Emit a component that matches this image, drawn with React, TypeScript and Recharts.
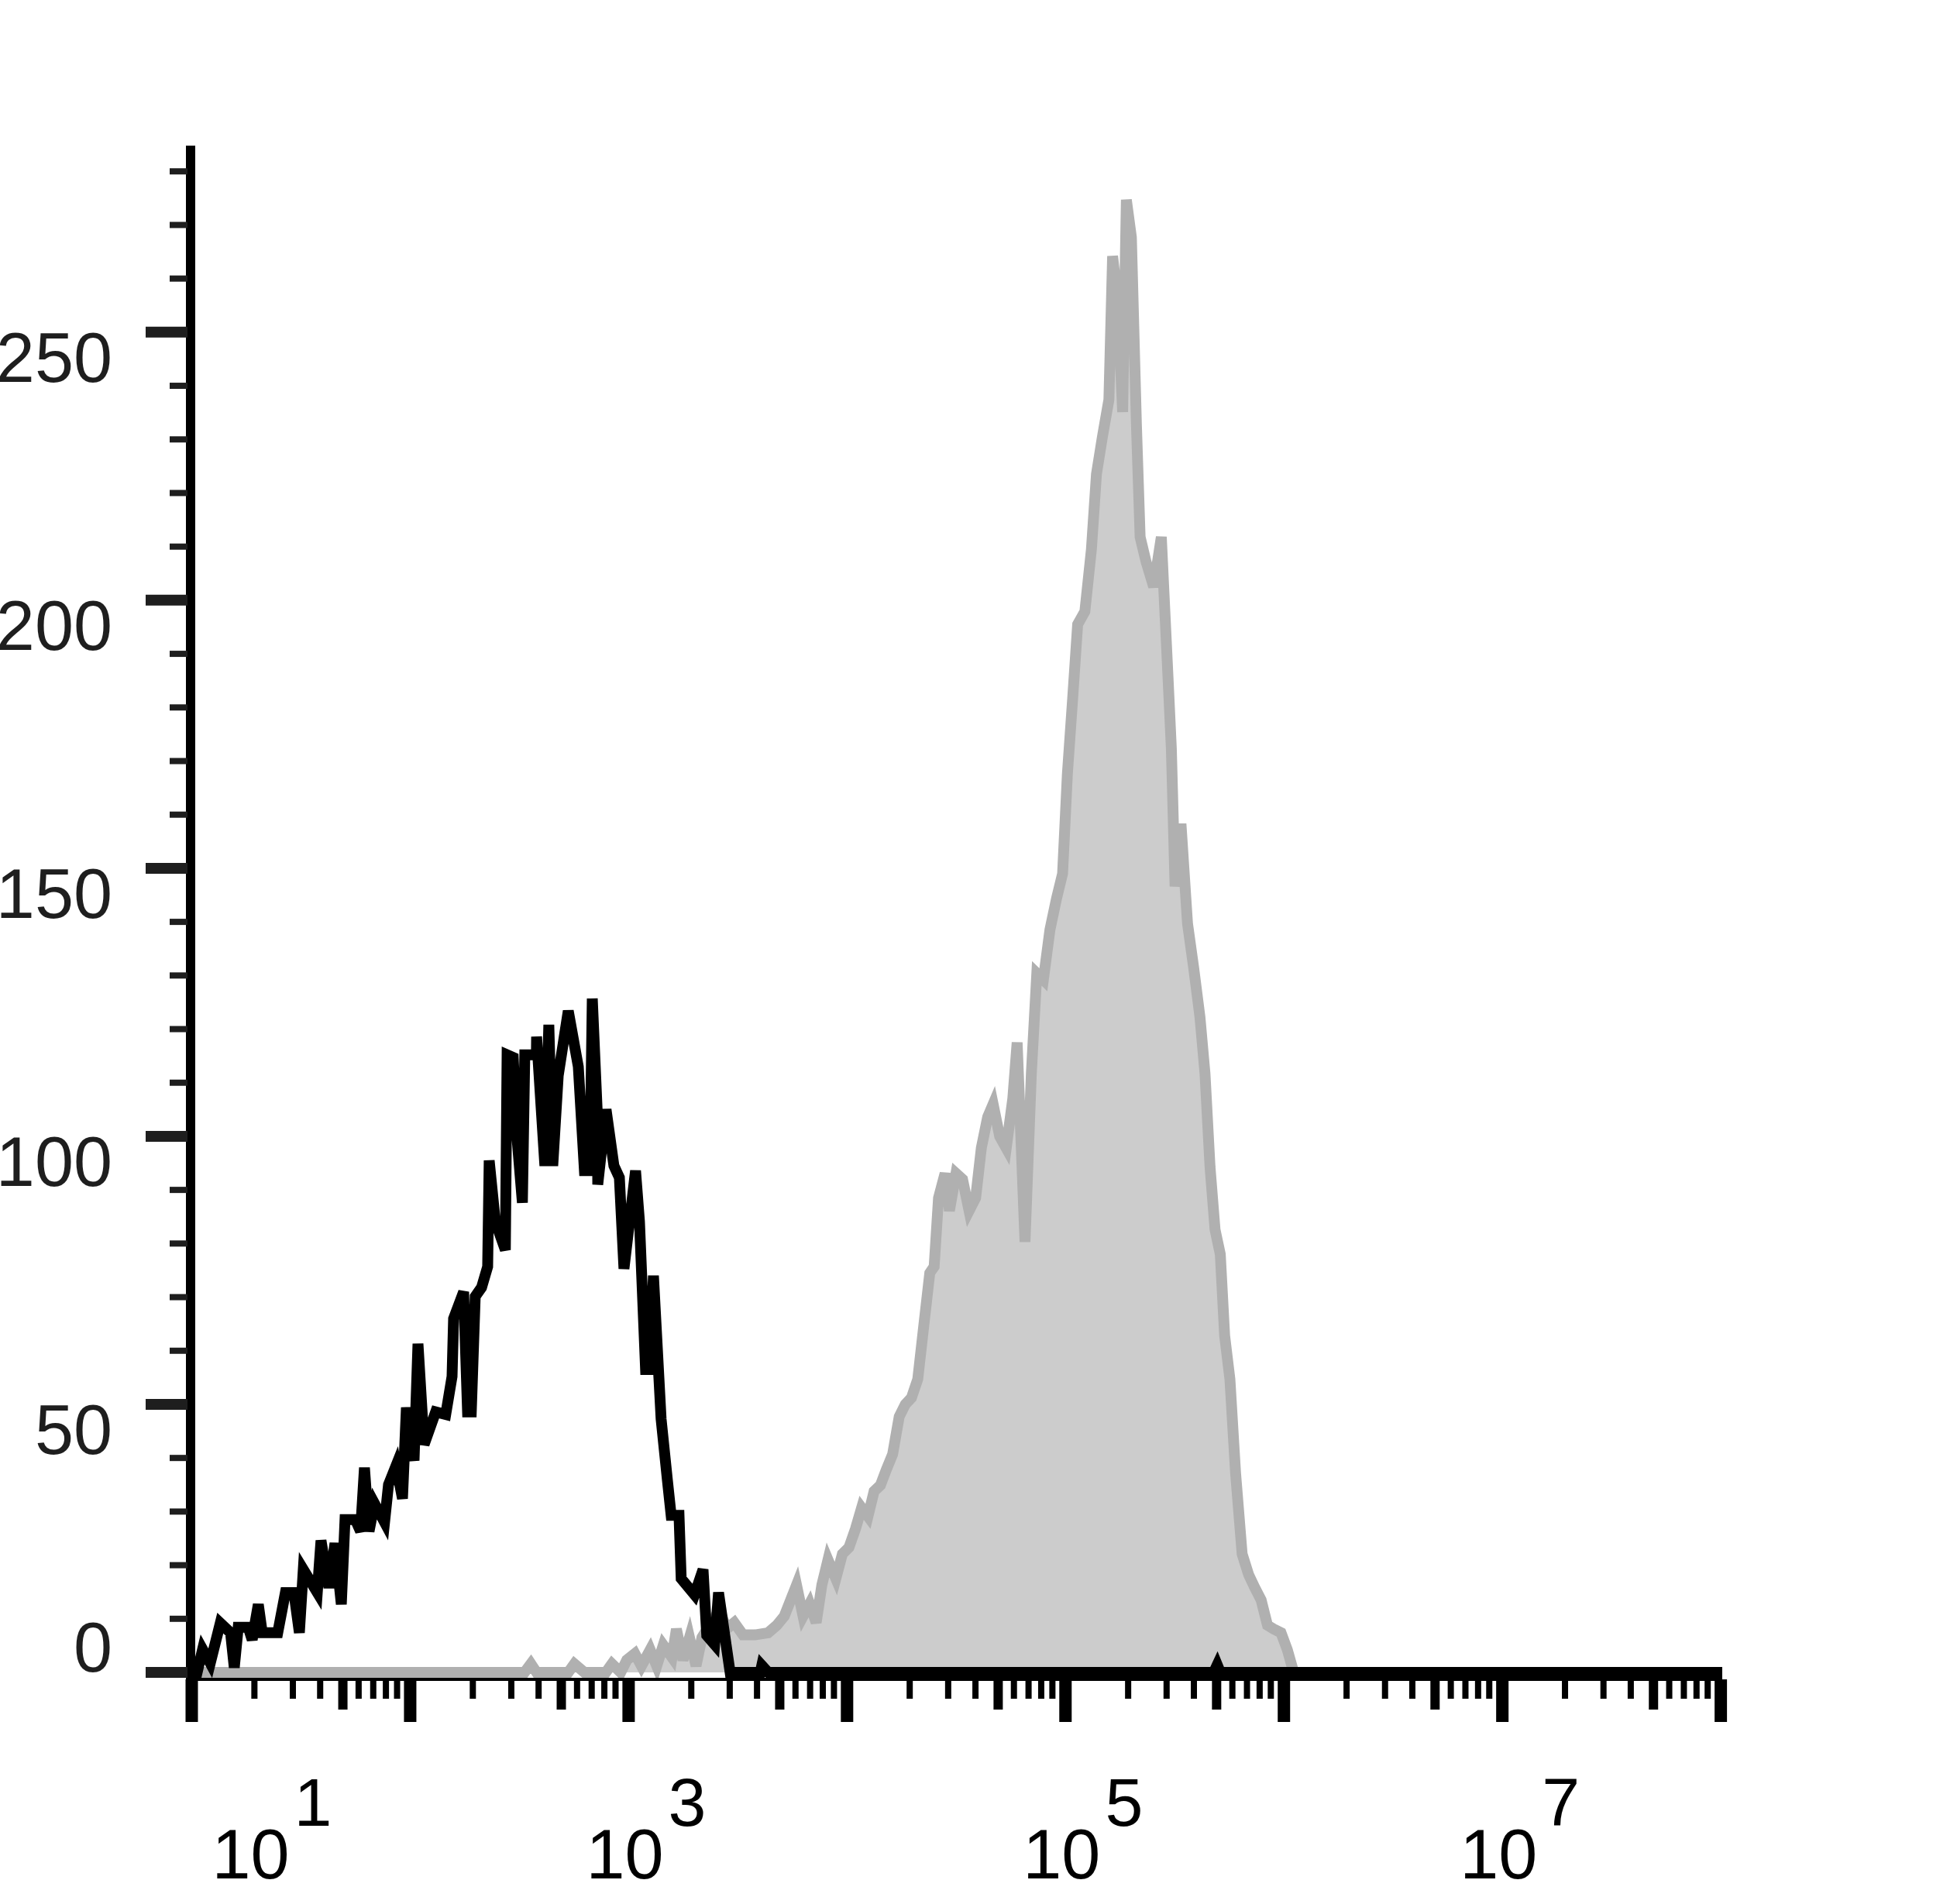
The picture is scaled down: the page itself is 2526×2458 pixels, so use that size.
import React from 'react';
import { ComposedChart, Line, Area, XAxis, YAxis } from 'recharts';

// Isotype control (black outline) – bin position as log10(channel) and count
const isoExp = [1.018, 1.046, 1.071, 1.106, 1.152, 1.199, 1.216, 1.234, 1.28, 1.298, 1.326, 1.344, 1.415, 1.45, 1.489, 1.514, 1.532, 1.596, 1.613, 1.649, 1.677, 1.706, 1.723, 1.77, 1.794, 1.812, 1.833, 1.858, 1.904, 1.922, 1.957, 1.986, 2.004, 2.039, 2.057, 2.085, 2.138, 2.184, 2.213, 2.22, 2.266, 2.284, 2.301, 2.319, 2.348, 2.376, 2.383, 2.411, 2.457, 2.465, 2.493, 2.511, 2.535, 2.546, 2.599, 2.6, 2.638, 2.656, 2.674, 2.699, 2.745, 2.791, 2.819, 2.844, 2.855, 2.879, 2.88, 2.918, 2.954, 2.979, 3.0, 3.053, 3.071, 3.099, 3.117, 3.135, 3.17, 3.199, 3.216, 3.252, 3.262, 3.323, 3.362, 3.379, 3.415, 3.433, 3.486, 3.624, 3.631, 3.66, 5.7, 5.716, 5.73, 8.028];
const isoCount = [1.7, 0, 4.3, 1.7, 9.2, 7.4, 0.9, 8.4, 8.4, 6.1, 12.7, 7.4, 7.4, 14.9, 14.9, 7.4, 19.2, 14.9, 24.6, 15.8, 24.1, 12.7, 28.5, 28.5, 26.3, 38.2, 26.3, 31.5, 28, 35, 38.6, 32.4, 49.4, 39.5, 61.3, 42.5, 48.6, 48.1, 55.2, 66, 71, 48.6, 48.6, 70.1, 71.8, 75.7, 95.5, 84.1, 78.8, 115.2, 114.7, 99.4, 87.6, 115.2, 115.2, 118.6, 94.5, 120.8, 94.5, 111.3, 123.4, 113, 93.6, 93.6, 125.7, 103.3, 91, 105, 94.5, 92.3, 75.3, 93.6, 84.1, 56.5, 56.5, 74, 47.3, 35.8, 29.3, 29.3, 17.5, 14.5, 19.2, 6.9, 5.2, 14.9, 0, 0, 1.3, 0, 0, 1.4, 0, 0];

// Stained sample (grey filled)
const stainExp = [1.016, 2.545, 2.574, 2.6, 2.745, 2.773, 2.819, 2.917, 2.945, 2.985, 3.013, 3.05, 3.08, 3.12, 3.15, 3.18, 3.22, 3.24, 3.27, 3.3, 3.33, 3.357, 3.4, 3.437, 3.47, 3.505, 3.545, 3.6, 3.66, 3.7, 3.734, 3.763, 3.79, 3.82, 3.85, 3.88, 3.906, 3.934, 3.97, 4.0, 4.03, 4.06, 4.088, 4.117, 4.145, 4.174, 4.2, 4.23, 4.26, 4.288, 4.316, 4.345, 4.374, 4.4, 4.42, 4.44, 4.47, 4.49, 4.52, 4.55, 4.58, 4.61, 4.636, 4.665, 4.69, 4.72, 4.75, 4.78, 4.8, 4.836, 4.865, 4.89, 4.92, 4.95, 4.98, 5.008, 5.03, 5.054, 5.077, 5.11, 5.14, 5.163, 5.19, 5.22, 5.237, 5.26, 5.283, 5.3, 5.323, 5.346, 5.363, 5.39, 5.425, 5.46, 5.49, 5.506, 5.523, 5.55, 5.58, 5.608, 5.637, 5.66, 5.683, 5.706, 5.73, 5.75, 5.774, 5.8, 5.83, 5.86, 5.888, 5.917, 5.946, 5.974, 6.008, 6.037, 6.066, 8.028];
const stainCount = [0, 0, 1.6, 0, 0, 1.6, 0, 0, 1.6, 0, 2.3, 3.5, 1.2, 4.2, 1.2, 5.1, 2.8, 8.1, 2.3, 6.5, 1.2, 6.5, 9.3, 11.6, 8.1, 9.3, 7, 7, 7.4, 8.8, 10.5, 13.5, 16.3, 10.5, 12.8, 9.3, 16.3, 21, 17.5, 22.1, 23.3, 26.8, 30.7, 29.1, 33.8, 34.9, 37.7, 40.7, 47.7, 50, 51.2, 54.7, 65.2, 74.5, 75.7, 88.5, 93.1, 86.1, 93.1, 92, 86.1, 88.5, 97.8, 103.6, 106, 100, 97.8, 107, 117.5, 80.3, 111.7, 130.4, 129.2, 138.5, 144.3, 149, 167.6, 181.6, 195.5, 197.9, 209.5, 223.5, 230.4, 237.4, 264.2, 256, 235.1, 274.7, 267.7, 232.8, 211.8, 207.2, 202.5, 211.8, 186.2, 172.3, 146.6, 158.3, 139.7, 131.5, 122.2, 111.7, 94.3, 82.6, 78, 62.8, 54.7, 37.2, 22.1, 18.2, 15.8, 13.5, 8.8, 8.1, 7.4, 4.2, 0, 0];

const yTicks = [0, 10, 20, 30, 40, 50, 60, 70, 80, 90, 100, 110, 120, 130, 140, 150, 160, 170, 180, 190, 200, 210, 220, 230, 240, 250, 260, 270, 280];
const yLabelTicks = [0, 50, 100, 150, 200, 250];
const xDecades = [1, 2, 3, 4, 5, 6, 7];
const xLabelDecades = [1, 3, 5, 7];

const X_MIN = Math.pow(10, 1.016);
const X_MAX = Math.pow(10, 8.028);
const Y_DOMAIN: [number, number] = [-1.3, 284.8];

const isoData = isoExp.map((e, i) => ({ x: Math.pow(10, e), y: isoCount[i] }));
const stainData = stainExp.map((e, i) => ({ x: Math.pow(10, e), y: stainCount[i] }));

const xTicks: number[] = [];
xDecades.forEach((d) => {
  for (let k = 1; k <= 9; k++) xTicks.push(k * Math.pow(10, d));
});
xTicks.push(Math.pow(10, 8));

const FONT = '"Liberation Sans", Arial, Helvetica, sans-serif';

const XTick = (props: any) => {
  const { x, y, payload } = props;
  const v = payload.value as number;
  const e = Math.floor(Math.log10(v) + 1e-9);
  const k = Math.round(v / Math.pow(10, e));
  let len = 25;
  let w = 8;
  if (k === 1) {
    len = 55;
    w = 16;
  } else if (k === 5) {
    len = 39;
    w = 12;
  }
  const showLabel = k === 1 && xLabelDecades.indexOf(e) >= 0;
  const dx = e === 1 ? 32 : -49;
  const lx = Math.max(x + w / 2 - 2, 242);
  return (
    <g>
      <line x1={lx} x2={lx} y1={y} y2={y + len} stroke="#000" strokeWidth={w} />
      {showLabel && (
        <text x={x + dx} y={y + 257} fontFamily={FONT} fontSize={90} fill="#000">
          10
          <tspan dx={6} dy={-68} fontSize={88}>
            {String(e)}
          </tspan>
        </text>
      )}
    </g>
  );
};

const YTick = (props: any) => {
  const { x, y, payload } = props;
  const v = payload.value as number;
  const major = yLabelTicks.indexOf(v) >= 0;
  const len = major ? 58 : 27;
  const w = major ? 14 : 8;
  return (
    <g>
      <line x1={x - len} x2={x - 4} y1={y} y2={y} stroke="#1e1e1e" strokeWidth={w} />
      {major && (
        <text
          x={x - 101}
          y={v === 0 ? y - 1 : y + 64}
          textAnchor="end"
          fontFamily={FONT}
          fontSize={90}
          fill="#1e1e1e"
        >
          {String(v)}
        </text>
      )}
    </g>
  );
};

export default function App() {
  return (
    <div style={{ position: 'absolute', left: 0, top: 0, background: '#fff' }}>
      <ComposedChart width={2526} height={2458} margin={{ top: 188, right: 303, bottom: 0, left: 0 }}>
        <XAxis
          xAxisId="b"
          dataKey="x"
          type="number"
          scale="log"
          domain={[X_MIN, X_MAX]}
          allowDataOverflow
          ticks={xTicks}
          interval={0}
          height={290}
          axisLine={{ stroke: '#000', strokeWidth: 4 }}
          tickLine={false}
          tickSize={0}
          tickMargin={0}
          tick={(p: any) => <XTick {...p} />}
        />
        <XAxis
          xAxisId="t"
          orientation="top"
          type="number"
          scale="log"
          domain={[X_MIN, X_MAX]}
          allowDataOverflow
          height={0}
          tick={false}
          tickLine={false}
          axisLine={{ stroke: '#000', strokeWidth: 5 }}
        />
        <YAxis
          yAxisId="l"
          type="number"
          domain={Y_DOMAIN}
          allowDataOverflow
          ticks={yTicks}
          interval={0}
          width={246}
          axisLine={{ stroke: '#000', strokeWidth: 12 }}
          tickLine={false}
          tickSize={0}
          tickMargin={0}
          tick={(p: any) => <YTick {...p} />}
        />
        <YAxis
          yAxisId="r"
          orientation="right"
          type="number"
          domain={Y_DOMAIN}
          allowDataOverflow
          width={0}
          tick={false}
          tickLine={false}
          axisLine={{ stroke: '#000', strokeWidth: 5 }}
        />
        <Area
          xAxisId="b"
          yAxisId="l"
          data={stainData}
          dataKey="y"
          type="linear"
          stroke="#b0b0b0"
          strokeWidth={14}
          fill="#cccccc"
          fillOpacity={1}
          dot={false}
          activeDot={false}
          isAnimationActive={false}
        />
        <Line
          xAxisId="b"
          yAxisId="l"
          data={isoData}
          dataKey="y"
          type="linear"
          stroke="#000"
          strokeWidth={14}
          dot={false}
          activeDot={false}
          isAnimationActive={false}
        />
      </ComposedChart>
    </div>
  );
}
